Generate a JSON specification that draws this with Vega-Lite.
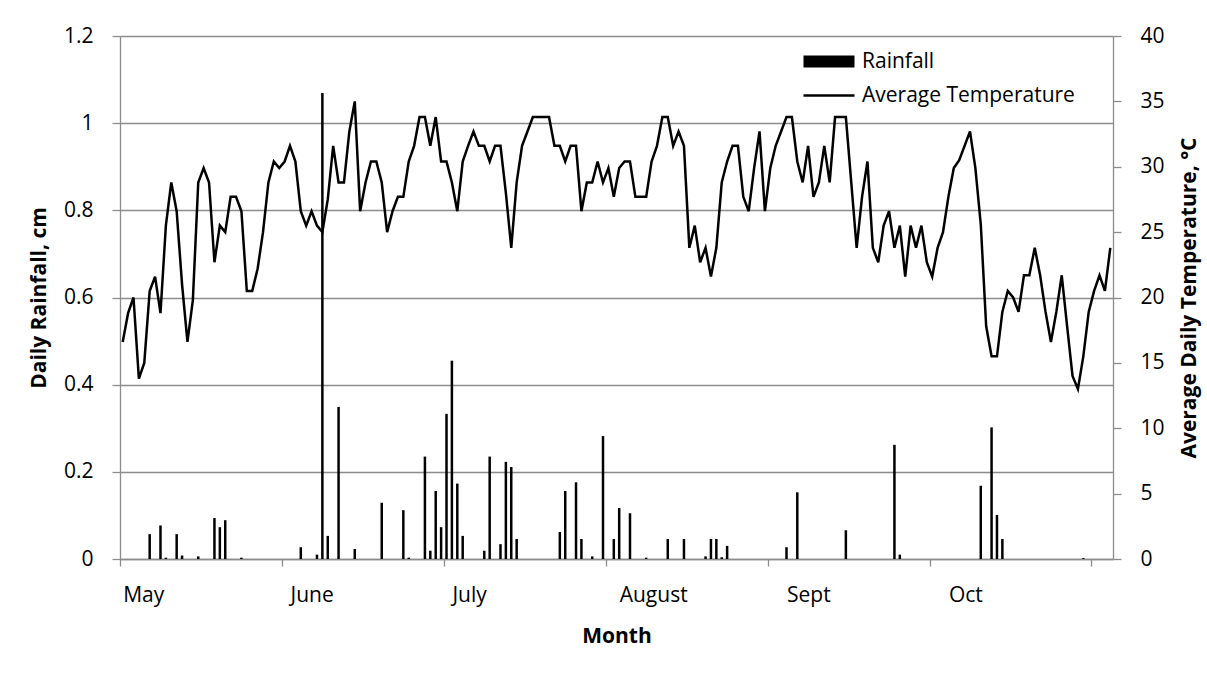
{
  "$schema": "https://vega.github.io/schema/vega-lite/v6.json",
  "width": 993,
  "height": 523,
  "autosize": {"type": "none"},
  "padding": {"left": 120, "top": 36, "right": 94, "bottom": 128},
  "background": "white",
  "config": {
    "font": "Open Sans",
    "view": {"stroke": null},
    "axis": {
      "domainColor": "#8c8c8c",
      "tickColor": "#8c8c8c",
      "gridColor": "#8c8c8c",
      "domainWidth": 1.3,
      "tickWidth": 1.3,
      "gridWidth": 1.3,
      "labelColor": "black",
      "titleColor": "black",
      "labelFont": "Open Sans",
      "titleFont": "Open Sans",
      "labelFontSize": 21,
      "titleFontSize": 21,
      "titleFontWeight": "bold"
    }
  },
  "data": {
    "values": [
      {"day": 1, "rain": 0, "temp": 16.6},
      {"day": 2, "rain": 0, "temp": 18.8},
      {"day": 3, "rain": 0, "temp": 20.0},
      {"day": 4, "rain": 0, "temp": 13.8},
      {"day": 5, "rain": 0, "temp": 15.0},
      {"day": 6, "rain": 0.057, "temp": 20.5},
      {"day": 7, "rain": 0, "temp": 21.6},
      {"day": 8, "rain": 0.077, "temp": 18.8},
      {"day": 9, "rain": 0.003, "temp": 25.5},
      {"day": 10, "rain": 0, "temp": 28.8},
      {"day": 11, "rain": 0.057, "temp": 26.6},
      {"day": 12, "rain": 0.008, "temp": 21.0},
      {"day": 13, "rain": 0, "temp": 16.6},
      {"day": 14, "rain": 0, "temp": 19.8},
      {"day": 15, "rain": 0.006, "temp": 28.8},
      {"day": 16, "rain": 0, "temp": 29.9},
      {"day": 17, "rain": 0, "temp": 28.8},
      {"day": 18, "rain": 0.094, "temp": 22.7},
      {"day": 19, "rain": 0.073, "temp": 25.5},
      {"day": 20, "rain": 0.089, "temp": 25.0},
      {"day": 21, "rain": 0, "temp": 27.7},
      {"day": 22, "rain": 0, "temp": 27.7},
      {"day": 23, "rain": 0.003, "temp": 26.6},
      {"day": 24, "rain": 0, "temp": 20.5},
      {"day": 25, "rain": 0, "temp": 20.5},
      {"day": 26, "rain": 0, "temp": 22.2},
      {"day": 27, "rain": 0, "temp": 25.0},
      {"day": 28, "rain": 0, "temp": 28.8},
      {"day": 29, "rain": 0, "temp": 30.4},
      {"day": 30, "rain": 0, "temp": 29.9},
      {"day": 31, "rain": 0, "temp": 30.4},
      {"day": 32, "rain": 0, "temp": 31.6},
      {"day": 33, "rain": 0, "temp": 30.4},
      {"day": 34, "rain": 0.027, "temp": 26.6},
      {"day": 35, "rain": 0, "temp": 25.5},
      {"day": 36, "rain": 0, "temp": 26.6},
      {"day": 37, "rain": 0.01, "temp": 25.5},
      {"day": 38, "rain": 1.069, "temp": 25.0},
      {"day": 39, "rain": 0.053, "temp": 27.5},
      {"day": 40, "rain": 0, "temp": 31.6},
      {"day": 41, "rain": 0.349, "temp": 28.8},
      {"day": 42, "rain": 0, "temp": 28.8},
      {"day": 43, "rain": 0, "temp": 32.7},
      {"day": 44, "rain": 0.023, "temp": 35.0},
      {"day": 45, "rain": 0, "temp": 26.6},
      {"day": 46, "rain": 0, "temp": 28.8},
      {"day": 47, "rain": 0, "temp": 30.4},
      {"day": 48, "rain": 0, "temp": 30.4},
      {"day": 49, "rain": 0.129, "temp": 28.8},
      {"day": 50, "rain": 0, "temp": 25.0},
      {"day": 51, "rain": 0, "temp": 26.6},
      {"day": 52, "rain": 0, "temp": 27.7},
      {"day": 53, "rain": 0.112, "temp": 27.7},
      {"day": 54, "rain": 0.003, "temp": 30.4},
      {"day": 55, "rain": 0, "temp": 31.6},
      {"day": 56, "rain": 0, "temp": 33.8},
      {"day": 57, "rain": 0.235, "temp": 33.8},
      {"day": 58, "rain": 0.019, "temp": 31.6},
      {"day": 59, "rain": 0.156, "temp": 33.8},
      {"day": 60, "rain": 0.073, "temp": 30.4},
      {"day": 61, "rain": 0.333, "temp": 30.4},
      {"day": 62, "rain": 0.455, "temp": 28.8},
      {"day": 63, "rain": 0.173, "temp": 26.6},
      {"day": 64, "rain": 0.053, "temp": 30.4},
      {"day": 65, "rain": 0, "temp": 31.6},
      {"day": 66, "rain": 0, "temp": 32.7},
      {"day": 67, "rain": 0, "temp": 31.6},
      {"day": 68, "rain": 0.019, "temp": 31.6},
      {"day": 69, "rain": 0.235, "temp": 30.4},
      {"day": 70, "rain": 0, "temp": 31.6},
      {"day": 71, "rain": 0.034, "temp": 31.6},
      {"day": 72, "rain": 0.223, "temp": 28.0},
      {"day": 73, "rain": 0.211, "temp": 23.8},
      {"day": 74, "rain": 0.046, "temp": 28.8},
      {"day": 75, "rain": 0, "temp": 31.6},
      {"day": 76, "rain": 0, "temp": 32.7},
      {"day": 77, "rain": 0, "temp": 33.8},
      {"day": 78, "rain": 0, "temp": 33.8},
      {"day": 79, "rain": 0, "temp": 33.8},
      {"day": 80, "rain": 0, "temp": 33.8},
      {"day": 81, "rain": 0, "temp": 31.6},
      {"day": 82, "rain": 0.062, "temp": 31.6},
      {"day": 83, "rain": 0.156, "temp": 30.4},
      {"day": 84, "rain": 0, "temp": 31.6},
      {"day": 85, "rain": 0.176, "temp": 31.6},
      {"day": 86, "rain": 0.046, "temp": 26.6},
      {"day": 87, "rain": 0, "temp": 28.8},
      {"day": 88, "rain": 0.006, "temp": 28.8},
      {"day": 89, "rain": 0, "temp": 30.4},
      {"day": 90, "rain": 0.282, "temp": 28.8},
      {"day": 91, "rain": 0, "temp": 29.9},
      {"day": 92, "rain": 0.046, "temp": 27.7},
      {"day": 93, "rain": 0.117, "temp": 29.9},
      {"day": 94, "rain": 0, "temp": 30.4},
      {"day": 95, "rain": 0.105, "temp": 30.4},
      {"day": 96, "rain": 0, "temp": 27.7},
      {"day": 97, "rain": 0, "temp": 27.7},
      {"day": 98, "rain": 0.003, "temp": 27.7},
      {"day": 99, "rain": 0, "temp": 30.4},
      {"day": 100, "rain": 0, "temp": 31.6},
      {"day": 101, "rain": 0, "temp": 33.8},
      {"day": 102, "rain": 0.046, "temp": 33.8},
      {"day": 103, "rain": 0, "temp": 31.6},
      {"day": 104, "rain": 0, "temp": 32.7},
      {"day": 105, "rain": 0.046, "temp": 31.6},
      {"day": 106, "rain": 0, "temp": 23.8},
      {"day": 107, "rain": 0, "temp": 25.5},
      {"day": 108, "rain": 0, "temp": 22.7},
      {"day": 109, "rain": 0.006, "temp": 23.8},
      {"day": 110, "rain": 0.046, "temp": 21.6},
      {"day": 111, "rain": 0.046, "temp": 23.8},
      {"day": 112, "rain": 0.004, "temp": 28.8},
      {"day": 113, "rain": 0.03, "temp": 30.4},
      {"day": 114, "rain": 0, "temp": 31.6},
      {"day": 115, "rain": 0, "temp": 31.6},
      {"day": 116, "rain": 0, "temp": 27.7},
      {"day": 117, "rain": 0, "temp": 26.6},
      {"day": 118, "rain": 0, "temp": 29.9},
      {"day": 119, "rain": 0, "temp": 32.7},
      {"day": 120, "rain": 0, "temp": 26.6},
      {"day": 121, "rain": 0, "temp": 29.9},
      {"day": 122, "rain": 0, "temp": 31.6},
      {"day": 123, "rain": 0, "temp": 32.7},
      {"day": 124, "rain": 0.027, "temp": 33.8},
      {"day": 125, "rain": 0, "temp": 33.8},
      {"day": 126, "rain": 0.153, "temp": 30.4},
      {"day": 127, "rain": 0, "temp": 28.8},
      {"day": 128, "rain": 0, "temp": 31.6},
      {"day": 129, "rain": 0, "temp": 27.7},
      {"day": 130, "rain": 0, "temp": 28.8},
      {"day": 131, "rain": 0, "temp": 31.6},
      {"day": 132, "rain": 0, "temp": 28.8},
      {"day": 133, "rain": 0, "temp": 33.8},
      {"day": 134, "rain": 0, "temp": 33.8},
      {"day": 135, "rain": 0.066, "temp": 33.8},
      {"day": 136, "rain": 0, "temp": 28.8},
      {"day": 137, "rain": 0, "temp": 23.8},
      {"day": 138, "rain": 0, "temp": 27.7},
      {"day": 139, "rain": 0, "temp": 30.4},
      {"day": 140, "rain": 0, "temp": 23.8},
      {"day": 141, "rain": 0, "temp": 22.7},
      {"day": 142, "rain": 0, "temp": 25.5},
      {"day": 143, "rain": 0, "temp": 26.6},
      {"day": 144, "rain": 0.262, "temp": 23.8},
      {"day": 145, "rain": 0.01, "temp": 25.5},
      {"day": 146, "rain": 0, "temp": 21.6},
      {"day": 147, "rain": 0, "temp": 25.5},
      {"day": 148, "rain": 0, "temp": 23.8},
      {"day": 149, "rain": 0, "temp": 25.5},
      {"day": 150, "rain": 0, "temp": 22.7},
      {"day": 151, "rain": 0, "temp": 21.6},
      {"day": 152, "rain": 0, "temp": 23.8},
      {"day": 153, "rain": 0, "temp": 25.0},
      {"day": 154, "rain": 0, "temp": 27.7},
      {"day": 155, "rain": 0, "temp": 29.9},
      {"day": 156, "rain": 0, "temp": 30.5},
      {"day": 157, "rain": 0, "temp": 31.6},
      {"day": 158, "rain": 0, "temp": 32.7},
      {"day": 159, "rain": 0, "temp": 29.9},
      {"day": 160, "rain": 0.168, "temp": 25.6},
      {"day": 161, "rain": 0, "temp": 17.8},
      {"day": 162, "rain": 0.302, "temp": 15.5},
      {"day": 163, "rain": 0.101, "temp": 15.5},
      {"day": 164, "rain": 0.046, "temp": 18.9},
      {"day": 165, "rain": 0, "temp": 20.5},
      {"day": 166, "rain": 0, "temp": 20.0},
      {"day": 167, "rain": 0, "temp": 18.9},
      {"day": 168, "rain": 0, "temp": 21.7},
      {"day": 169, "rain": 0, "temp": 21.7},
      {"day": 170, "rain": 0, "temp": 23.8},
      {"day": 171, "rain": 0, "temp": 21.7},
      {"day": 172, "rain": 0, "temp": 18.9},
      {"day": 173, "rain": 0, "temp": 16.6},
      {"day": 174, "rain": 0, "temp": 18.9},
      {"day": 175, "rain": 0, "temp": 21.7},
      {"day": 176, "rain": 0, "temp": 17.8},
      {"day": 177, "rain": 0, "temp": 14.0},
      {"day": 178, "rain": 0, "temp": 13.0},
      {"day": 179, "rain": 0.002, "temp": 15.5},
      {"day": 180, "rain": 0, "temp": 18.9},
      {"day": 181, "rain": 0, "temp": 20.5},
      {"day": 182, "rain": 0, "temp": 21.7},
      {"day": 183, "rain": 0, "temp": 20.5},
      {"day": 184, "rain": 0, "temp": 23.8}
    ]
  },
  "layer": [
    {
      "mark": {"type": "bar", "size": 2.5},
      "encoding": {
        "x": {
          "field": "day",
          "type": "quantitative",
          "scale": {"domain": [0.5, 184.5], "nice": false, "zero": false, "padding": 0},
          "axis": {
            "orient": "bottom",
            "values": [0.5, 30.5, 60.5, 90.5, 120.5, 150.5, 180.5],
            "labels": false,
            "tickSize": 7,
            "grid": false,
            "title": null
          }
        },
        "y": {
          "field": "rain",
          "type": "quantitative",
          "scale": {"domain": [0, 1.2], "nice": false, "padding": 0},
          "axis": {
            "title": "Daily Rainfall, cm",
            "values": [0, 0.2, 0.4, 0.6, 0.8, 1, 1.2],
            "format": ".1~f",
            "grid": true,
            "tickSize": 8,
            "labelPadding": 19,
            "titlePadding": 14
          }
        },
        "color": {
          "datum": "Rainfall",
          "scale": {"domain": ["Rainfall", "Average Temperature"], "range": ["black", "black"]},
          "legend": {
            "title": null,
            "orient": "none",
            "legendX": 683,
            "legendY": 15,
            "padding": 0,
            "labelFont": "Open Sans",
            "labelFontSize": 21,
            "labelColor": "black",
            "labelLimit": 0,
            "labelOffset": 38,
            "symbolSize": 400,
            "rowPadding": 12,
            "encode": {
              "symbols": {
                "update": {
                  "shape": {"signal": "datum.value === 'Rainfall' ? 'M-1,-0.6H4.1V0.6H-1Z' : 'M-1,0H4.1'"},
                  "fill": {"signal": "datum.value === 'Rainfall' ? 'black' : 'transparent'"},
                  "stroke": {"value": "black"},
                  "strokeWidth": {"signal": "datum.value === 'Rainfall' ? 0 : 2.5"},
                  "opacity": {"value": 1}
                }
              }
            }
          }
        }
      }
    },
    {
      "mark": {"type": "line", "strokeWidth": 2.5},
      "encoding": {
        "x": {
          "field": "day",
          "type": "quantitative",
          "axis": {
            "orient": "bottom",
            "values": [1, 32, 62, 93, 124, 154],
            "labelExpr": "datum.value < 30 ? 'May' : datum.value < 60 ? 'June' : datum.value < 90 ? 'July' : datum.value < 120 ? 'August' : datum.value < 150 ? 'Sept' : 'Oct'",
            "labelAlign": "left",
            "labelFlush": false,
            "labelOverlap": false,
            "ticks": false,
            "domain": false,
            "grid": false,
            "labelPadding": 25,
            "title": "Month",
            "titlePadding": 20
          }
        },
        "y": {
          "field": "temp",
          "type": "quantitative",
          "scale": {"domain": [0, 40], "nice": false},
          "axis": {
            "orient": "right",
            "title": "Average Daily Temperature, °C",
            "values": [0, 5, 10, 15, 20, 25, 30, 35, 40],
            "grid": false,
            "tickSize": 8,
            "labelPadding": 19,
            "titleAngle": 270,
            "titleBaseline": "top",
            "titlePadding": 14
          }
        },
        "color": {"datum": "Average Temperature"}
      }
    }
  ],
  "resolve": {"scale": {"y": "independent"}, "axis": {"x": "independent"}}
}
